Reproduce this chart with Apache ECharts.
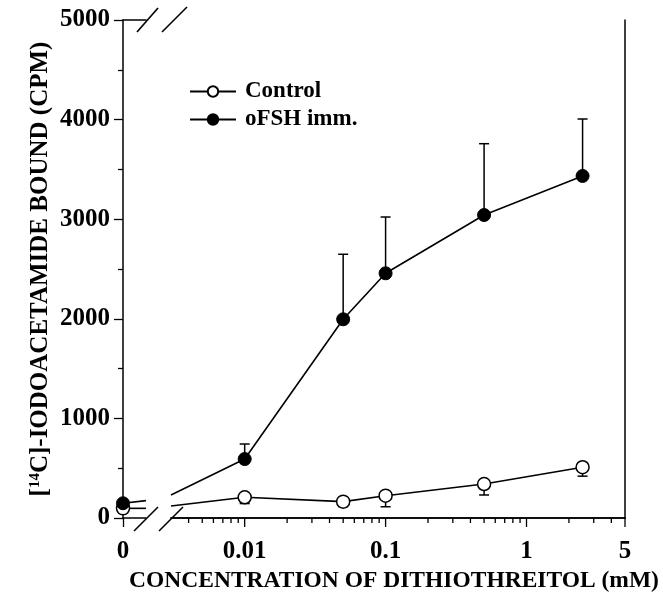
<!DOCTYPE html>
<html>
<head>
<meta charset="utf-8">
<title>Iodoacetamide binding vs dithiothreitol</title>
<script src="https://cdn.jsdelivr.net/npm/echarts@6.0.0/dist/echarts.min.js"></script>
<style>
  html, body { margin: 0; padding: 0; background: #fff; }
  #chart { width: 663px; height: 599px; }
</style>
</head>
<body>
<div id="chart"></div>
<script>
// DTT concentrations (mM) on the log part of the axis
const concentrations = [0.01, 0.05, 0.1, 0.5, 2.5];

// values at 0 mM (left of the axis break)
const controlAtZero = 97;
const fshAtZero = 148;

// line values where the curves meet the break (left stub end, right restart)
const controlBreak = [97, 120];
const fshBreak = [174, 231];

// means and one-sided error bars (CPM)
const controlMean = [208, 164, 224, 341, 510];
const controlErr = [63, 50, 111, 110, 90];
const fshMean = [592, 1995, 2457, 3042, 3434];
const fshErr = [151, 653, 565, 716, 572];

// axis ticks
const yTicks = [0, 1000, 2000, 3000, 4000, 5000];
const xMajorTicks = [0.01, 0.1, 1, 5];
const xMinorTicks = [0.004, 0.005, 0.006, 0.007, 0.008, 0.009,
                     0.02, 0.03, 0.04, 0.05, 0.06, 0.07, 0.08, 0.09,
                     0.2, 0.3, 0.4, 0.5, 0.6, 0.7, 0.8, 0.9,
                     2, 3, 4];

const FONT = "'Liberation Serif', 'Times New Roman', serif";
const black = '#000';

const chart = echarts.init(document.getElementById('chart'), null, { renderer: 'canvas' });

const logMin = 0.003, logMax = 5;

// error bar drawer: value(0)=x, value(1)=mean, value(2)=end
function errorBar(params, api) {
    const p0 = api.coord([api.value(0), api.value(1)]);
    const p1 = api.coord([api.value(0), api.value(2)]);
    return {
        type: 'group',
        children: [
            { type: 'line', shape: { x1: p0[0], y1: p0[1], x2: p1[0], y2: p1[1] },
              style: { stroke: black, lineWidth: 1.5 } },
            { type: 'line', shape: { x1: p1[0] - 5, y1: p1[1], x2: p1[0] + 5, y2: p1[1] },
              style: { stroke: black, lineWidth: 1.5 } }
        ]
    };
}

// tick drawer on the log axis
function tickMark(len) {
    return (params, api) => {
        const p = api.coord([api.value(0), 0]);
        return { type: 'line', shape: { x1: p[0], y1: p[1], x2: p[0], y2: p[1] + len },
                 style: { stroke: black, lineWidth: 1.3 } };
    };
}

const lineStyle = { color: black, width: 1.6 };
const openSym = { color: '#fff', borderColor: black, borderWidth: 1.5 };
const filledSym = { color: black, borderColor: black, borderWidth: 1 };
const tickFont = { color: black, fontFamily: FONT, fontWeight: 'bold', fontSize: 25 };

const option = {
    backgroundColor: '#fff',
    animation: false,
    textStyle: { fontFamily: FONT },
    grid: [
        { left: 123, width: 23, top: 20, bottom: 81, outerBoundsMode: 'none', containLabel: false },   // 0 mM part
        { left: 171, right: 38, top: 20, bottom: 81, outerBoundsMode: 'none', containLabel: false }    // log part
    ],
    legend: {
        data: ['Control', 'oFSH imm.'],
        orient: 'vertical',
        left: 184,
        top: 75,
        itemWidth: 46,
        itemHeight: 13,
        itemGap: 5,
        textStyle: { fontFamily: FONT, fontWeight: 'bold', fontSize: 23, color: black,
                     lineHeight: 23, padding: [0, 0, 0, 4] }
    },
    xAxis: [
        {
            gridIndex: 0, type: 'category', data: ['0', ''], boundaryGap: false,
            axisLine: { lineStyle: { color: black, width: 1.5 } },
            axisTick: { length: 9, interval: (i) => i === 0, lineStyle: { color: black, width: 1.3 } },
            axisLabel: Object.assign({ interval: (i) => i === 0, margin: 21 }, tickFont),
            splitLine: { show: false }
        },
        {
            gridIndex: 0, type: 'category', data: ['0', ''], boundaryGap: false, position: 'top',
            axisLine: { lineStyle: { color: black, width: 1.5 } },
            axisTick: { show: false }, axisLabel: { show: false }
        },
        {
            gridIndex: 1, type: 'log', logBase: 10, min: logMin, max: logMax,
            axisLine: { lineStyle: { color: black, width: 1.5 } },
            axisTick: { show: false },
            axisLabel: Object.assign({
                showMinLabel: false, margin: 21,
                formatter: v => String(+(+v).toPrecision(3))
            }, tickFont),
            splitLine: { show: false }, minorTick: { show: false },
            name: 'CONCENTRATION OF DITHIOTHREITOL (mM)',
            nameLocation: 'middle',
            nameGap: 47,
            nameTextStyle: { fontFamily: FONT, fontWeight: 'bold', fontSize: 23.5, color: black,
                             padding: [0, 8, 0, 0] }
        },
        {
            gridIndex: 1, type: 'log', logBase: 10, min: logMin, max: logMax, position: 'top',
            axisLine: { lineStyle: { color: black, width: 1.5 } },
            axisTick: { show: false }, axisLabel: { show: false }, splitLine: { show: false }
        }
    ],
    yAxis: [
        {
            gridIndex: 0, type: 'value', min: yTicks[0], max: yTicks[yTicks.length - 1], interval: 1000,
            axisLine: { show: true, lineStyle: { color: black, width: 1.5 } },
            axisTick: { show: true, length: 9, lineStyle: { color: black, width: 1.3 } },
            minorTick: { show: true, splitNumber: 2, length: 5, lineStyle: { color: black, width: 1.3 } },
            axisLabel: Object.assign({ margin: 13, formatter: v => String(v) }, tickFont),
            splitLine: { show: false },
            name: '[{sup|14}C]-IODOACETAMIDE BOUND (CPM)',
            nameLocation: 'middle',
            nameGap: 70,
            nameTextStyle: {
                fontFamily: FONT, fontWeight: 'bold', fontSize: 25, color: black,
                rich: { sup: { fontFamily: FONT, fontWeight: 'bold', fontSize: 15,
                               verticalAlign: 'top', color: black } }
            }
        },
        {
            gridIndex: 1, type: 'value', min: 0, max: 5000, show: false
        },
        {
            gridIndex: 1, type: 'value', min: 0, max: 5000, position: 'right',
            axisLine: { show: true, lineStyle: { color: black, width: 1.5 } },
            axisTick: { show: false }, axisLabel: { show: false }, splitLine: { show: false }
        }
    ],
    graphic: [
        // axis break marks
        { type: 'line', shape: { x1: 134, y1: 531, x2: 158, y2: 507 }, style: { stroke: black, lineWidth: 1.6 } },
        { type: 'line', shape: { x1: 159, y1: 531, x2: 183, y2: 507 }, style: { stroke: black, lineWidth: 1.6 } },
        { type: 'line', shape: { x1: 137, y1: 32, x2: 158, y2: 8 }, style: { stroke: black, lineWidth: 1.6 } },
        { type: 'line', shape: { x1: 162, y1: 32, x2: 187, y2: 7 }, style: { stroke: black, lineWidth: 1.6 } }
    ],
    series: [
        // error bars (under the markers)
        {
            type: 'custom', name: 'ctrlErr', xAxisIndex: 2, yAxisIndex: 1, z: 1,
            renderItem: errorBar, encode: { x: 0, y: [1, 2] },
            data: concentrations.map((c, i) => [c, controlMean[i], controlMean[i] - controlErr[i]])
        },
        {
            type: 'custom', name: 'fshErr', xAxisIndex: 2, yAxisIndex: 1, z: 1,
            renderItem: errorBar, encode: { x: 0, y: [1, 2] },
            data: concentrations.map((c, i) => [c, fshMean[i], fshMean[i] + fshErr[i]])
        },
        // log-axis ticks
        {
            type: 'custom', name: 'majorTicks', xAxisIndex: 2, yAxisIndex: 1, z: 1,
            renderItem: tickMark(9), data: xMajorTicks.map(v => [v, 0])
        },
        {
            type: 'custom', name: 'minorTicks', xAxisIndex: 2, yAxisIndex: 1, z: 1,
            renderItem: tickMark(5), data: xMinorTicks.map(v => [v, 0])
        },
        // 0 mM part with short stubs to the break
        {
            type: 'line', name: 'Control', xAxisIndex: 0, yAxisIndex: 0, z: 3,
            data: [
                { value: controlAtZero },
                { value: controlBreak[0], symbol: 'none' }
            ],
            symbol: 'circle', symbolSize: 13, clip: false,
            lineStyle: lineStyle, itemStyle: openSym
        },
        {
            type: 'line', name: 'oFSH imm.', xAxisIndex: 0, yAxisIndex: 0, z: 4,
            data: [
                { value: fshAtZero },
                { value: fshBreak[0], symbol: 'none' }
            ],
            symbol: 'circle', symbolSize: 13, clip: false,
            lineStyle: lineStyle, itemStyle: filledSym
        },
        // log part
        {
            type: 'line', name: 'Control', xAxisIndex: 2, yAxisIndex: 1, z: 3,
            data: [{ value: [logMin, controlBreak[1]], symbol: 'none' }]
                .concat(concentrations.map((c, i) => [c, controlMean[i]])),
            symbol: 'circle', symbolSize: 13, clip: false,
            lineStyle: lineStyle, itemStyle: openSym
        },
        {
            type: 'line', name: 'oFSH imm.', xAxisIndex: 2, yAxisIndex: 1, z: 4,
            data: [{ value: [logMin, fshBreak[1]], symbol: 'none' }]
                .concat(concentrations.map((c, i) => [c, fshMean[i]])),
            symbol: 'circle', symbolSize: 13, clip: false,
            lineStyle: lineStyle, itemStyle: filledSym
        }
    ]
};

chart.setOption(option);
</script>
</body>
</html>
